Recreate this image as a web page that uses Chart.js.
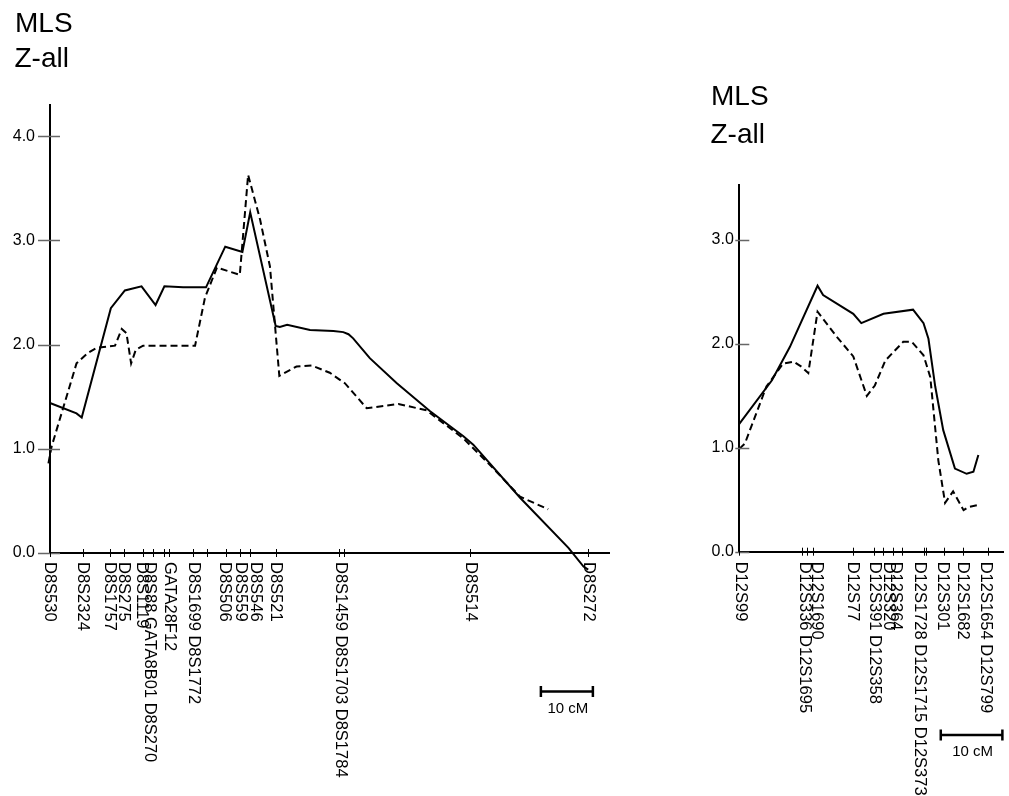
<!DOCTYPE html>
<html><head><meta charset="utf-8">
<script src="https://cdn.jsdelivr.net/npm/chart.js@4/dist/chart.umd.min.js"></script>
<style>
html,body{margin:0;padding:0;background:#fff;}
#wrap{position:relative;width:1009px;height:796px;overflow:hidden;background:#fff;}
canvas{position:absolute;top:0;}
</style></head><body>
<div id="wrap">
<canvas id="c8" width="660" height="796" style="left:0"></canvas>
<canvas id="c12" width="349" height="796" style="left:660px"></canvas>
</div>
<script>
// ---------- Chromosome 8 (positions in cM) ----------
const chr8Markers = [0, 6.3, 11.5, 14.3, 17.8, 19.9, 22.0, 22.9, 27.5, 30.1, 33.8, 36.6, 38.4, 43.4, 55.6, 56.6, 80.8, 103.5];
const chr8Labels = ['D8S530','D8S2324','D8S1757','D8S275','D8S1119','D8S88 GATA8B01 D8S270','GATA28F12','D8S1699 D8S1772','D8S506','D8S559','D8S546','D8S521','D8S1459 D8S1703 D8S1784','D8S514','D8S272'];
const chr8LabelPos = [0, 6.2, 11.5, 14.2, 17.7, 19.2, 22.9, 27.6, 33.6, 36.7, 39.6, 43.4, 55.8, 80.8, 103.5];
const chr8YTicks = [0, 1, 2, 3, 4];
const chr8MlsX = [0, 5.1, 6.1, 11.7, 14.4, 17.6, 20.3, 22.0, 25.6, 30.0, 33.7, 37.0, 38.5, 43.4, 44.2, 45.6, 50.0, 54.5, 56.4, 57.4, 58.3, 61.5, 66.7, 73.1, 79.5, 81.4, 90.4, 99.7, 102.6, 103.5];
const chr8MlsY = [1.44, 1.34, 1.30, 2.35, 2.52, 2.56, 2.38, 2.56, 2.55, 2.55, 2.94, 2.89, 3.27, 2.18, 2.17, 2.19, 2.14, 2.13, 2.12, 2.10, 2.06, 1.87, 1.63, 1.36, 1.12, 1.04, 0.53, 0.05, -0.13, -0.16];
const chr8ZallX = [-0.3, 0.3, 5.1, 7.3, 9.0, 12.5, 13.8, 14.7, 15.6, 16.5, 17.9, 27.9, 29.8, 32.1, 36.5, 38.1, 40.4, 42.3, 44.1, 47.4, 50.3, 53.8, 56.7, 60.9, 67.0, 72.4, 79.5, 85.3, 90.4, 95.8];
const chr8ZallY = [0.86, 1.02, 1.82, 1.92, 1.97, 1.99, 2.15, 2.11, 1.82, 1.95, 1.99, 1.99, 2.45, 2.74, 2.67, 3.63, 3.20, 2.75, 1.70, 1.79, 1.80, 1.73, 1.63, 1.39, 1.43, 1.37, 1.10, 0.81, 0.54, 0.42];

// ---------- Chromosome 12 (positions in cM) ----------
const chr12Markers = [0, 10.1, 11.0, 12.0, 18.5, 21.9, 23.3, 25.0, 26.4, 29.9, 30.3, 33.2, 36.3, 40.3];
const chr12Labels = ['D12S99','D12S336 D12S1695','D12S1690','D12S77','D12S391 D12S358','D12S320','D12S364','D12S1728 D12S1715 D12S373','D12S301','D12S1682','D12S1654 D12S799'];
const chr12LabelPos = [0.2, 10.6, 12.6, 18.4, 21.9, 24.3, 25.3, 29.2, 33.0, 36.2, 40.0];
const chr12YTicks = [0, 1, 2, 3];
const chr12MlsX = [0, 5.3, 8.2, 12.7, 13.6, 18.5, 19.8, 23.4, 28.2, 29.9, 30.7, 31.8, 33.1, 35.0, 36.9, 38.0, 38.8];
const chr12MlsY = [1.23, 1.65, 1.97, 2.56, 2.47, 2.29, 2.20, 2.29, 2.33, 2.20, 2.05, 1.59, 1.17, 0.80, 0.75, 0.77, 0.93];
const chr12ZallX = [0, 0.9, 4.4, 7.1, 8.8, 10.1, 11.2, 12.7, 15.8, 18.5, 20.7, 22.0, 23.7, 26.6, 28.0, 29.9, 31.0, 32.3, 33.4, 34.7, 36.4, 37.2, 38.8];
const chr12ZallY = [0.99, 1.04, 1.59, 1.81, 1.83, 1.78, 1.72, 2.31, 2.07, 1.88, 1.50, 1.60, 1.84, 2.02, 2.02, 1.89, 1.68, 0.88, 0.47, 0.58, 0.40, 0.43, 0.45];

const titleLines = ['MLS', 'Z-all'];
const scaleBarLabel = '10 cM';
const FONT = '"Liberation Sans", Arial, Helvetica, sans-serif';

function pts(xs, ys){ return xs.map((x, i) => ({x: x, y: ys[i]})); }

function decoPlugin(d){
  return {
    id: 'deco',
    afterDraw(chart){
      const ctx = chart.ctx, a = chart.chartArea, xs = chart.scales.x, ys = chart.scales.y;
      ctx.save();
      // y tick marks crossing the axis
      ctx.strokeStyle = '#666'; ctx.lineWidth = 1.5;
      d.yTicks.forEach(v => {
        const py = Math.round(ys.getPixelForValue(v)) + 0.5;
        ctx.beginPath(); ctx.moveTo(a.left - d.yTickOut, py); ctx.lineTo(a.left + 10, py); ctx.stroke();
      });
      // marker tick marks crossing the x axis
      ctx.strokeStyle = '#000'; ctx.lineWidth = 1;
      d.markers.forEach(v => {
        const px = Math.round(xs.getPixelForValue(v)) + 0.5;
        ctx.beginPath(); ctx.moveTo(px, a.bottom - 4); ctx.lineTo(px, a.bottom + 4); ctx.stroke();
      });
      // marker labels, reading top to bottom
      ctx.fillStyle = '#000';
      ctx.font = '16.5px ' + FONT;
      ctx.textAlign = 'left'; ctx.textBaseline = 'middle';
      d.labels.forEach((s, i) => {
        const px = xs.getPixelForValue(d.labelPos[i]);
        ctx.save(); ctx.translate(px, a.bottom + d.labelGap); ctx.rotate(Math.PI / 2);
        ctx.fillText(s, 0, 0); ctx.restore();
      });
      // 10 cM scale bar
      const b0 = xs.getPixelForValue(d.barStart), b1 = xs.getPixelForValue(d.barStart + 10);
      ctx.strokeStyle = '#000'; ctx.lineWidth = 2.5;
      ctx.beginPath();
      ctx.moveTo(b0, d.barY); ctx.lineTo(b1, d.barY);
      ctx.moveTo(b0, d.barY - 5.5); ctx.lineTo(b0, d.barY + 5.5);
      ctx.moveTo(b1, d.barY - 5.5); ctx.lineTo(b1, d.barY + 5.5);
      ctx.stroke();
      ctx.font = '15px ' + FONT; ctx.textAlign = 'center'; ctx.textBaseline = 'alphabetic';
      ctx.fillText(scaleBarLabel, (b0 + b1) / 2 + 1, d.barY + 21);
      // title
      ctx.font = '28px ' + FONT; ctx.textAlign = 'left';
      ctx.fillText(titleLines[0], d.titleX, d.titleY[0]);
      ctx.fillText(titleLines[1], d.titleX - 0.5, d.titleY[1]);
      ctx.restore();
    }
  };
}

function makeChart(id, o){
  return new Chart(document.getElementById(id), {
    type: 'line',
    data: { datasets: [
      { data: pts(o.mlsX, o.mlsY), borderColor: '#000', borderWidth: 2, pointRadius: 0, tension: 0, clip: false, fill: false },
      { data: pts(o.zX, o.zY), borderColor: '#000', borderWidth: 2, borderDash: [7, 4], pointRadius: 0, tension: 0, clip: false, fill: false }
    ]},
    options: {
      responsive: false, animation: false, devicePixelRatio: 1,
      layout: { padding: { top: o.top, right: o.padRight, left: 0, bottom: 0 } },
      plugins: { legend: { display: false }, tooltip: { enabled: false }, title: { display: false } },
      scales: {
        x: { type: 'linear', min: 0, max: o.xMax,
             ticks: { display: false }, grid: { display: false, drawTicks: false },
             border: { display: true, color: '#000', width: 2 },
             afterFit: s => { s.height = o.xAxisH; } },
        y: { type: 'linear', min: 0, max: o.yMax,
             ticks: { stepSize: 1, includeBounds: false, callback: v => Number(v).toFixed(1),
                      color: '#000', font: { size: 16, family: FONT }, padding: o.yPad },
             grid: { display: false, drawTicks: false },
             border: { display: true, color: '#000', width: 2 },
             afterFit: s => { s.width = o.yAxisW; } }
      }
    },
    plugins: [decoPlugin(o.deco)]
  });
}

makeChart('c8', {
  mlsX: chr8MlsX, mlsY: chr8MlsY, zX: chr8ZallX, zY: chr8ZallY,
  top: 105, padRight: 51, xMax: 107.5, yMax: 4.3, xAxisH: 243, yAxisW: 50, yPad: 15,
  deco: { yTicks: chr8YTicks, yTickOut: 12, markers: chr8Markers, labels: chr8Labels, labelPos: chr8LabelPos,
          labelGap: 9, barStart: 94.4, barY: 691.5, titleX: 15, titleY: [32, 67] }
});

makeChart('c12', {
  mlsX: chr12MlsX, mlsY: chr12MlsY, zX: chr12ZallX, zY: chr12ZallY,
  top: 185, padRight: 6, xMax: 42.8, yMax: 3.53, xAxisH: 244.3, yAxisW: 79.3, yPad: 5.5,
  deco: { yTicks: chr12YTicks, yTickOut: 4, markers: chr12Markers, labels: chr12Labels, labelPos: chr12LabelPos,
          labelGap: 10, barStart: 32.7, barY: 735, titleX: 51, titleY: [105, 143] }
});
</script>
</body></html>
